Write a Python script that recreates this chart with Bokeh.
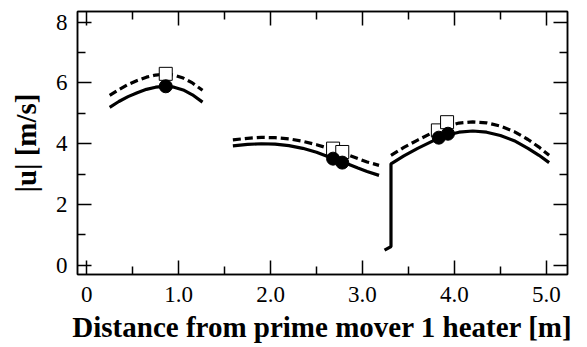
from bokeh.plotting import figure
from bokeh.models import LinearAxis, FixedTicker, Range1d
from bokeh.embed import file_html
from bokeh.resources import INLINE

# ---- data ----
seg1_x = [0.25, 0.35, 0.45, 0.55, 0.65, 0.75, 0.85, 0.95, 1.05, 1.15, 1.26]
seg1_solid = [5.20, 5.39, 5.55, 5.68, 5.79, 5.86, 5.89, 5.86, 5.77, 5.61, 5.37]
seg1_dash = [5.59, 5.78, 5.95, 6.08, 6.19, 6.26, 6.29, 6.26, 6.16, 6.00, 5.76]

seg2_x = [1.59, 1.75, 1.90, 2.05, 2.20, 2.35, 2.50, 2.65, 2.80, 2.95, 3.05, 3.18]
seg2_solid = [3.93, 3.98, 4.00, 3.99, 3.94, 3.85, 3.72, 3.55, 3.38, 3.20, 3.09, 2.96]
seg2_dash = [4.13, 4.18, 4.21, 4.20, 4.16, 4.08, 3.97, 3.83, 3.68, 3.51, 3.40, 3.29]

seg3_x = [3.24, 3.31, 3.31, 3.45, 3.60, 3.75, 3.90, 4.05, 4.20, 4.35, 4.50, 4.65, 4.80, 4.92, 5.03]
seg3_solid = [0.50, 0.62, 3.34, 3.60, 3.85, 4.07, 4.27, 4.38, 4.42, 4.38, 4.27, 4.10, 3.85, 3.62, 3.38]
seg3d_x = [3.31, 3.45, 3.60, 3.75, 3.90, 4.05, 4.20, 4.35, 4.50, 4.65, 4.80, 4.92, 5.03]
seg3_dash = [3.62, 3.88, 4.12, 4.35, 4.55, 4.68, 4.72, 4.69, 4.58, 4.40, 4.14, 3.89, 3.62]

circ_x = [0.86, 2.68, 2.78, 3.83, 3.93]
circ_y = [5.89, 3.51, 3.38, 4.20, 4.33]
sq_x = [0.86, 2.68, 2.78, 3.82, 3.92]
sq_y = [6.30, 3.84, 3.73, 4.44, 4.71]

x_ticks = [0, 1, 2, 3, 4, 5]
x_tick_labels = ["0", "1.0", "2.0", "3.0", "4.0", "5.0"]
y_ticks = [0, 2, 4, 6, 8]
x_label = "Distance from prime mover 1 heater [m]"
y_label = "|u| [m/s]"

SERIF = "Liberation Serif"

p = figure(width=587, height=347, output_backend="svg", toolbar_location=None,
           x_range=Range1d(-0.1, 5.23), y_range=Range1d(-0.3, 8.35),
           x_axis_type=None, y_axis_type=None,
           min_border_left=77, min_border_right=20, min_border_top=11, min_border_bottom=73)
p.grid.visible = False
p.outline_line_color = "black"
p.outline_line_width = 1.5
p.background_fill_color = "white"
p.border_fill_color = "white"

def style_axis(ax, labels=True):
    ax.axis_line_color = "black"
    ax.axis_line_width = 1.5
    ax.major_tick_line_width = 1.5
    ax.minor_tick_line_width = 1.5
    ax.major_tick_in = 14
    ax.major_tick_out = 0
    ax.minor_tick_in = 8
    ax.minor_tick_out = 0
    ax.major_label_text_font = SERIF
    ax.major_label_text_font_size = "23px" if labels else "0px"
    ax.major_label_text_color = "black" if labels else None
    ax.major_label_standoff = 10 if labels else 0

xt = FixedTicker(ticks=x_ticks, minor_ticks=[0.5, 1.5, 2.5, 3.5, 4.5])
yt = FixedTicker(ticks=y_ticks, minor_ticks=[1, 3, 5, 7])

xb = LinearAxis(ticker=xt)
style_axis(xb)
xb.major_label_overrides = {t: s for t, s in zip(x_ticks, x_tick_labels)}
xb.major_label_standoff = 12
xb.axis_label = x_label
xb.axis_label_text_font = SERIF
xb.axis_label_text_font_style = "bold"
xb.axis_label_text_font_size = "29px"
xb.axis_label_text_color = "black"
xb.axis_label_standoff = 6
p.add_layout(xb, "below")

xa = LinearAxis(ticker=xt)
style_axis(xa, labels=False)
p.add_layout(xa, "above")

yl = LinearAxis(ticker=yt)
style_axis(yl)
yl.axis_label = y_label
yl.axis_label_text_font = SERIF
yl.axis_label_text_font_style = "bold"
yl.axis_label_text_font_size = "29px"
yl.axis_label_text_color = "black"
yl.axis_label_standoff = 11
p.add_layout(yl, "left")

yr = LinearAxis(ticker=yt)
style_axis(yr, labels=False)
p.add_layout(yr, "right")

# curves
LW = 3.2
for xs, ys in [(seg1_x, seg1_solid), (seg2_x, seg2_solid), (seg3_x, seg3_solid)]:
    p.line(xs, ys, line_color="black", line_width=LW)
for xs, ys in [(seg1_x, seg1_dash), (seg2_x, seg2_dash), (seg3d_x, seg3_dash)]:
    p.line(xs, ys, line_color="black", line_width=LW, line_dash="8 4")

p.scatter(sq_x, sq_y, marker="square", size=13, fill_color="white", line_color="black", line_width=1)
p.scatter(circ_x, circ_y, marker="circle", size=13, fill_color="black", line_color="black")

open("out.html", "w").write(file_html(p, INLINE))
